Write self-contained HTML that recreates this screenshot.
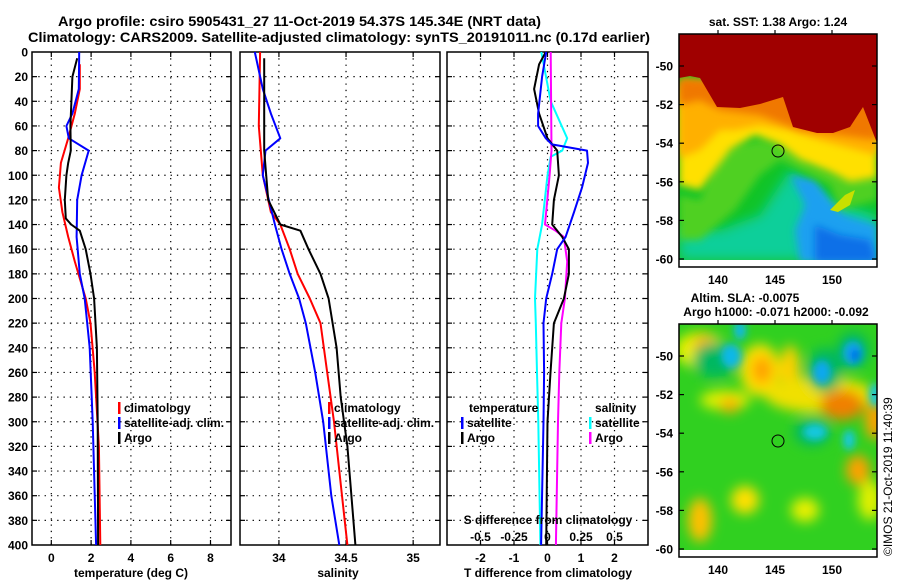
<!DOCTYPE html>
<html><head><meta charset="utf-8"><style>
html,body{margin:0;padding:0;background:#fff}
svg{display:block}
text{font-family:"Liberation Sans",sans-serif;font-weight:bold;fill:#000}
</style></head><body>
<svg id="chart" width="900" height="580" viewBox="0 0 900 580" xmlns="http://www.w3.org/2000/svg">
<defs>
<filter id="blur4" x="-20%" y="-20%" width="140%" height="140%"><feGaussianBlur stdDeviation="4"/></filter>
<filter id="blur6" x="-30%" y="-30%" width="160%" height="160%"><feGaussianBlur stdDeviation="6"/></filter>
<clipPath id="clipMap1"><rect x="679" y="34" width="198" height="226"/></clipPath>
<clipPath id="clipMap2"><rect x="679" y="324" width="198" height="226"/></clipPath>
</defs>
<text x="58" y="26" font-size="14" textLength="483" lengthAdjust="spacingAndGlyphs">Argo profile: csiro 5905431_27 11-Oct-2019 54.37S 145.34E (NRT data)</text>
<text x="28" y="42" font-size="14" textLength="622" lengthAdjust="spacingAndGlyphs">Climatology: CARS2009. Satellite-adjusted climatology: synTS_20191011.nc (0.17d earlier)</text>
<g id="panels"></g>

<!-- Map 1: SST -->
<g>
<text x="778" y="26" font-size="12" text-anchor="middle">sat. SST: 1.38 Argo: 1.24</text>
<g clip-path="url(#clipMap1)">
<rect x="679" y="34" width="198" height="226" fill="#10c428"/>
<polygon fill="#0ccf9a" filter="url(#blur6)" points="680,225 720,230 760,215 790,170 810,185 830,200 877,215 877,260 679,260"/>
<polygon fill="#1aa0f0" filter="url(#blur4)" points="790,175 815,180 830,200 845,215 877,225 877,262 800,262 795,230 805,205"/>
<polygon fill="#0a70e8" filter="url(#blur4)" points="815,225 840,235 870,240 877,262 815,262"/>
<polygon fill="#50d020" filter="url(#blur4)" points="679,195 700,200 720,150 760,140 790,150 810,165 840,175 877,178 877,200 840,210 830,185 800,170 780,160 760,175 735,210 700,240 679,240"/>
<polygon fill="#ffe000" filter="url(#blur4)" points="679,90 877,100 877,178 850,182 830,172 800,160 780,145 755,135 730,150 715,170 700,190 679,185"/>
<polygon fill="#ffb000" filter="url(#blur4)" points="679,80 877,95 877,155 850,148 820,140 790,130 760,125 735,130 720,130 700,150 679,158"/>
<polygon fill="#f07800" filter="url(#blur4)" points="679,78 877,90 877,140 840,135 800,130 760,115 720,110 700,100 679,105"/>
<polygon fill="#c8e000" points="830,210 845,195 855,190 850,205 838,212"/>
<polygon fill="#a00000" points="679,34 877,34 877,143 863,107 850,127 833,133 817,133 793,127 783,97 760,104 740,108 717,107 700,78 690,76 679,78"/>
<circle cx="778" cy="151" r="6" fill="none" stroke="#000" stroke-width="1"/>
</g>
<rect x="679" y="34" width="198" height="233" fill="none" stroke="#000" stroke-width="1.5"/>
<g id="map1axes"></g>
</g>

<!-- Map 2: SLA -->
<g>
<text x="745" y="302" font-size="12" text-anchor="middle">Altim. SLA: -0.0075</text>
<text x="776" y="316" font-size="12" text-anchor="middle">Argo h1000: -0.071 h2000: -0.092</text>
<g clip-path="url(#clipMap2)">
<rect x="679" y="324" width="198" height="226" fill="#30d020"/>
<g filter="url(#blur6)">
<ellipse cx="700" cy="350" rx="25" ry="18" fill="#e8f000"/>
<ellipse cx="705" cy="345" rx="12" ry="10" fill="#ffb000"/>
<ellipse cx="760" cy="370" rx="20" ry="26" fill="#ffe000"/>
<ellipse cx="762" cy="370" rx="10" ry="14" fill="#ffa000"/>
<ellipse cx="790" cy="370" rx="10" ry="25" fill="#ffd000"/>
<ellipse cx="820" cy="395" rx="55" ry="18" fill="#f0e000"/>
<ellipse cx="842" cy="405" rx="22" ry="15" fill="#f08000"/>
<ellipse cx="725" cy="400" rx="25" ry="10" fill="#e0f000"/>
<ellipse cx="730" cy="405" rx="10" ry="8" fill="#ffb000"/>
<ellipse cx="875" cy="420" rx="10" ry="20" fill="#ffa000"/>
<ellipse cx="858" cy="470" rx="12" ry="15" fill="#ffa000"/>
<ellipse cx="700" cy="520" rx="12" ry="22" fill="#ffc000"/>
<ellipse cx="745" cy="500" rx="14" ry="14" fill="#ffe000"/>
<ellipse cx="805" cy="510" rx="14" ry="12" fill="#e8f000"/>
<ellipse cx="870" cy="500" rx="12" ry="20" fill="#e0f000"/>
<ellipse cx="715" cy="360" rx="22" ry="18" fill="#00b860"/>
<ellipse cx="825" cy="370" rx="18" ry="22" fill="#00b860"/>
<ellipse cx="853" cy="350" rx="16" ry="18" fill="#00b860"/>
<ellipse cx="812" cy="432" rx="18" ry="14" fill="#00b860"/>
</g>
<g filter="url(#blur4)">
<ellipse cx="731" cy="356" rx="10" ry="12" fill="#10b8e8"/>
<ellipse cx="740" cy="330" rx="6" ry="10" fill="#10b8e8"/>
<ellipse cx="822" cy="372" rx="9" ry="12" fill="#10a8f0"/>
<ellipse cx="853" cy="353" rx="10" ry="12" fill="#10a8f0"/>
<ellipse cx="855" cy="355" rx="4" ry="6" fill="#0050e0"/>
<ellipse cx="815" cy="432" rx="12" ry="8" fill="#18c8e0"/>
<ellipse cx="849" cy="440" rx="6" ry="10" fill="#18c8e0"/>
<ellipse cx="875" cy="395" rx="6" ry="12" fill="#18c8e0"/>
</g>
<circle cx="778" cy="441" r="6" fill="none" stroke="#000" stroke-width="1"/>
</g>
<rect x="679" y="324" width="198" height="233" fill="none" stroke="#000" stroke-width="1.5"/>
<g id="map2axes"></g>
</g>
<text x="0" y="0" font-size="12" style="font-weight:normal" transform="translate(892,556) rotate(-90)">©IMOS 21-Oct-2019 11:40:39</text>
</svg>
<script>
// ---------- data ----------
var depthTicks = [0,20,40,60,80,100,120,140,160,180,200,220,240,260,280,300,320,340,360,380,400];

var tempArgoDepth = [5,20,40,60,80,90,100,120,135,140,145,160,180,200,240,300,400];
var tempArgo      = [1.30,1.06,1.01,0.96,0.98,0.85,0.76,0.68,0.73,1.00,1.43,1.73,1.97,2.15,2.29,2.33,2.35];
var tempClimDepth = [10,30,50,70,90,110,130,150,170,200,220,260,320,400];
var tempClim      = [1.43,1.43,1.18,0.85,0.48,0.38,0.56,0.85,1.18,1.73,1.97,2.18,2.39,2.46];
var tempSatDepth  = [0,30,50,60,70,80,100,120,150,180,200,240,300,400];
var tempSat       = [1.40,1.38,1.06,0.76,0.88,1.88,1.52,1.30,1.27,1.43,1.68,1.93,2.08,2.25];

var salArgoDepth = [5,80,120,140,145,160,180,200,240,280,320,360,400];
var salArgo      = [33.89,33.89,33.92,34.01,34.16,34.22,34.31,34.37,34.43,34.46,34.51,34.54,34.57];
var salClimDepth = [0,60,100,130,140,160,180,200,220,260,300,360,400];
var salClim      = [33.86,33.85,33.88,33.94,34.01,34.08,34.14,34.23,34.31,34.36,34.41,34.47,34.51];
var salSatDepth  = [0,30,50,70,80,100,140,160,180,200,220,260,300,360,400];
var salSat       = [33.82,33.88,33.94,34.01,33.90,33.88,33.97,34.02,34.08,34.15,34.20,34.27,34.33,34.39,34.45];

var dTArgoDepth = [0,10,30,50,70,80,100,120,140,150,160,180,200,220,260,300,400];
var dTArgo      = [-0.05,-0.25,-0.40,-0.25,0.00,0.29,0.34,0.19,0.14,0.44,0.64,0.64,0.49,0.19,0.09,0.00,-0.04];
var dTSatDepth  = [0,20,50,60,70,75,80,90,110,130,150,160,180,200,220,260,300,400];
var dTSat       = [-0.04,-0.16,-0.28,-0.28,-0.05,0.13,1.18,1.21,1.03,0.79,0.54,0.29,0.14,-0.04,-0.12,-0.10,-0.12,-0.19];
var dSSatDepth  = [0,40,70,80,85,100,140,160,200,220,260,300,400];
var dSSat       = [-0.046,0.024,0.147,0.11,0.024,0.0,-0.04,-0.076,-0.093,-0.087,-0.078,-0.069,-0.053];
var dSArgoDepth = [0,60,80,100,140,145,150,170,200,220,260,300,400];
var dSArgo      = [0.024,0.028,0.03,0.016,-0.019,0.06,0.122,0.147,0.13,0.103,0.088,0.078,0.063];

var tempTicks = [0,2,4,6,8];
var salTicks = [34,34.5,35];
var salTickLabels = ["34","34.5","35"];
var dTTicks = [-2,-1,0,1,2];
var dSTicks = [-0.5,-0.25,0,0.25,0.5];
var dSTickLabels = ["-0.5","-0.25","0","0.25","0.5"];
var latTicks = [-50,-52,-54,-56,-58,-60];
var lonTicks = [140,145,150];

// ---------- layout ----------
var NS = "http://www.w3.org/2000/svg";
var TOP = 52, BOT = 545;
function yScale(d){ return TOP + d/400*(BOT-TOP); }
function lin(d0,d1,r0,r1){ return function(v){ return r0 + (v-d0)/(d1-d0)*(r1-r0); }; }
var panels = [
  {name:"temperature-panel", x0:32, x1:231, dom:[-0.97,9.03]},
  {name:"salinity-panel", x0:240, x1:440, dom:[33.71,35.2]},
  {name:"difference-panel", x0:447, x1:648, dom:[-3,3]}
];
panels.forEach(function(p){ p.sx = lin(p.dom[0],p.dom[1],p.x0,p.x1); });
var sdx = lin(-0.75,0.75,447,648);

var root = document.getElementById('panels');
function mk(tag, attrs, parent, text){
  var e = document.createElementNS(NS, tag);
  for (var k in attrs) e.setAttribute(k, attrs[k]);
  if (text !== undefined) e.textContent = text;
  (parent||root).appendChild(e);
  return e;
}

panels.forEach(function(p, i){
  var g = mk('g', {});
  
  
  depthTicks.forEach(function(d){
    if (d===0||d===400) return;
    var l = mk('line', {x1:p.x0, x2:p.x1, y1:yScale(d), y2:yScale(d), stroke:'#000', 'stroke-width':1.2, 'stroke-dasharray':'1.3,5'}, g);
    
    
    mk('line', {x1:p.x0, x2:p.x0+5, y1:yScale(d), y2:yScale(d), stroke:'#000','stroke-width':1.2}, g);
    mk('line', {x1:p.x1-5, x2:p.x1, y1:yScale(d), y2:yScale(d), stroke:'#000','stroke-width':1.2}, g);
  });
  var ticks = i===0 ? tempTicks : (i===1 ? salTicks : dTTicks);
  ticks.forEach(function(t, j){
    var x = p.sx(t);
    var l = mk('line', {x1:x, x2:x, y1:TOP, y2:BOT, stroke:'#000','stroke-width':1.2,'stroke-dasharray':'1.3,5'}, g);
    
    
    mk('line', {x1:x, x2:x, y1:TOP, y2:TOP+5, stroke:'#000','stroke-width':1.2}, g);
    mk('line', {x1:x, x2:x, y1:BOT-5, y2:BOT, stroke:'#000','stroke-width':1.2}, g);
    var lab = i===1 ? salTickLabels[j] : String(t);
    var tx = mk('text', {x:x, y:562, 'font-size':12, 'text-anchor':'middle'}, g, lab);
    
    
  });
  var fr = mk('rect', {x:p.x0, y:TOP, width:p.x1-p.x0, height:BOT-TOP, fill:'none', stroke:'#000','stroke-width':1.5}, g);
  
  
});

depthTicks.forEach(function(d){
  var t = mk('text', {x:28, y:yScale(d)+4.5, 'font-size':12, 'text-anchor':'end'}, root, String(d));
  
  
});

function series(name, depths, vals, sx, color){
  var pts = depths.map(function(d,k){ return sx(vals[k]).toFixed(1)+','+yScale(d).toFixed(1); }).join(' ');
  var pl = mk('polyline', {points:pts, fill:'none', stroke:color, 'stroke-width':2, 'stroke-linejoin':'round'});
  
  
}
var P = panels;
series('temp-climatology-line', tempClimDepth, tempClim, P[0].sx, '#ff0000');
series('temp-satellite-line', tempSatDepth, tempSat, P[0].sx, '#0000ff');
series('temp-argo-line', tempArgoDepth, tempArgo, P[0].sx, '#000000');
series('sal-climatology-line', salClimDepth, salClim, P[1].sx, '#ff0000');
series('sal-satellite-line', salSatDepth, salSat, P[1].sx, '#0000ff');
series('sal-argo-line', salArgoDepth, salArgo, P[1].sx, '#000000');
series('dS-satellite-line', dSSatDepth, dSSat, sdx, '#00ffff');
series('dS-argo-line', dSArgoDepth, dSArgo, sdx, '#ff00ff');
series('dT-argo-line', dTArgoDepth, dTArgo, P[2].sx, '#000000');
series('dT-satellite-line', dTSatDepth, dTSat, P[2].sx, '#0000ff');

var sl = mk('text', {x:548, y:524, 'font-size':12, 'text-anchor':'middle'}, root, 'S difference from climatology');


dSTicks.forEach(function(t,j){
  var tx = mk('text', {x:sdx(t), y:541, 'font-size':12, 'text-anchor':'middle'}, root, dSTickLabels[j]);
  
  
});

[['temperature-axis-title',131,'temperature (deg C)'],['salinity-axis-title',338,'salinity'],['t-diff-axis-title',548,'T difference from climatology']].forEach(function(a){
  var t = mk('text', {x:a[1], y:577, 'font-size':12, 'text-anchor':'middle'}, root, a[2]);
  
  
});

function legendEntry(x, y, color, label){
  var g = mk('g', {});
  
  
  if (color) mk('rect', {x:x, y:y-10, width:2.5, height:12, fill:color}, g);
  mk('text', {x:x+6, y:y, 'font-size':12}, g, label);
}
legendEntry(118, 412, '#ff0000', 'climatology');
legendEntry(118, 427, '#0000ff', 'satellite-adj. clim.');
legendEntry(118, 442, '#000000', 'Argo');
legendEntry(328, 412, '#ff0000', 'climatology');
legendEntry(328, 427, '#0000ff', 'satellite-adj. clim.');
legendEntry(328, 442, '#000000', 'Argo');
legendEntry(463, 412, null, 'temperature');
legendEntry(461, 427, '#0000ff', 'satellite');
legendEntry(461, 442, '#000000', 'Argo');
legendEntry(589, 412, null, 'salinity');
legendEntry(589, 427, '#00ffff', 'satellite');
legendEntry(589, 442, '#ff00ff', 'Argo');

function mapAxes(id, y0, latY50, latY60, lonY){
  var g = document.getElementById(id);
  var ly = lin(-50,-60,latY50,latY60);
  var lx = lin(140,150,718,832);
  latTicks.forEach(function(t){
    var y = ly(t);
    mk('line', {x1:679,x2:684,y1:y,y2:y,stroke:'#000','stroke-width':1.2}, g);
    mk('line', {x1:872,x2:877,y1:y,y2:y,stroke:'#000','stroke-width':1.2}, g);
    var tx = mk('text', {x:673, y:y+4.5, 'font-size':12, 'text-anchor':'end'}, g, String(t));
    
    
  });
  lonTicks.forEach(function(t){
    var x = lx(t);
    mk('line', {x1:x,x2:x,y1:y0-4,y2:y0,stroke:'#000','stroke-width':1.2}, g);
    var tx = mk('text', {x:x, y:lonY, 'font-size':12, 'text-anchor':'middle'}, g, String(t));
    
    
  });
}
mapAxes('map1axes', 34, 66, 259, 284);
mapAxes('map2axes', 324, 356, 549, 574);
</script>
</body></html>
